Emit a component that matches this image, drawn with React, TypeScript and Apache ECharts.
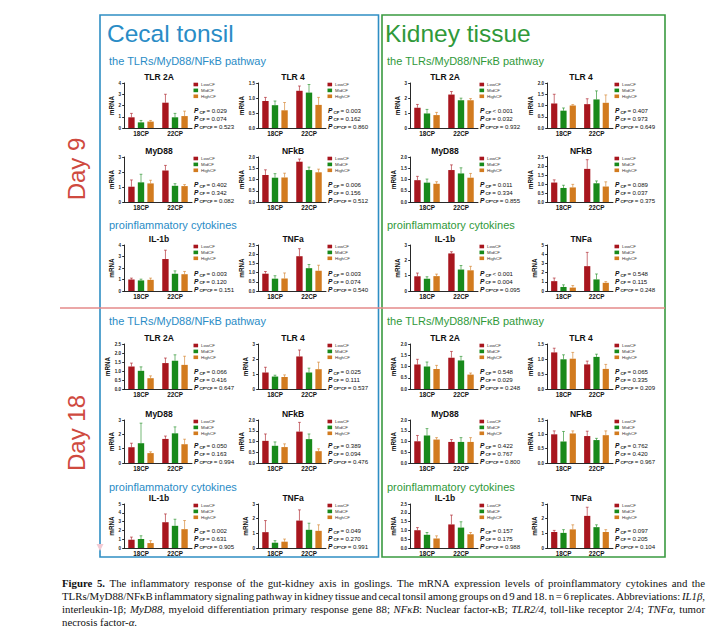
import React, { useEffect, useRef } from "react";
import * as echarts from "echarts";

// ---------------- data ----------------
const groups = ["18CP", "22CP"];
const levels = ["LowCF", "MidCF", "HighCF"];
const genes = ["TLR 2A", "TLR 4", "MyD88", "NFkB", "IL-1b", "TNFa"];
const pTerms = ["CP", "CF", "CP*CF"];

// each gene: [LowCF[18CP,22CP], MidCF[..], HighCF[..]]
const cecalD9Mean = [
  [[0.95, 2.25], [0.5, 0.95], [0.57, 1.06]],
  [[0.9, 1.24], [0.76, 1.18], [0.59, 0.77]],
  [[1.02, 2.1], [1.31, 1.08], [1.24, 1.06]],
  [[1.2, 1.79], [1.08, 1.42], [1.09, 1.32]],
  [[1.0, 2.78], [0.92, 1.5], [0.97, 1.46]],
  [[0.94, 1.89], [0.67, 1.24], [0.68, 1.1]],
];
const cecalD9Upper = [
  [[1.3, 3.0], [0.67, 1.3], [0.67, 1.5]],
  [[1.02, 1.4], [0.9, 1.45], [0.85, 1.02]],
  [[1.47, 2.44], [1.85, 1.22], [1.45, 1.16]],
  [[1.43, 1.91], [1.26, 1.55], [1.28, 1.46]],
  [[1.12, 3.55], [1.03, 1.75], [1.12, 1.7]],
  [[1.06, 2.3], [0.83, 1.44], [0.98, 1.4]],
];
const cecalD9YMax = [4, 1.5, 3, 2, 4, 2.5];
const cecalD9Step = [1, 0.5, 1, 0.5, 1, 0.5];
const cecalD9P = [
  ["= 0.029", "= 0.074", "= 0.523"],
  ["= 0.003", "= 0.162", "= 0.860"],
  ["= 0.402", "= 0.342", "= 0.082"],
  ["= 0.006", "= 0.156", "= 0.512"],
  ["= 0.003", "= 0.120", "= 0.151"],
  ["= 0.003", "= 0.074", "= 0.540"],
];

const kidneyD9Mean = [
  [[1.35, 2.23], [0.97, 1.85], [0.86, 1.85]],
  [[1.09, 1.06], [0.77, 1.27], [1.0, 1.12]],
  [[0.97, 1.42], [0.86, 1.27], [0.81, 1.08]],
  [[1.08, 1.84], [0.78, 1.04], [0.81, 0.86]],
  [[0.96, 2.45], [0.8, 1.4], [0.97, 1.35]],
  [[1.07, 2.7], [0.44, 1.26], [0.37, 0.89]],
];
const kidneyD9Upper = [
  [[1.57, 2.43], [1.24, 1.99], [1.04, 1.96]],
  [[1.5, 1.3], [0.89, 1.65], [1.04, 1.47]],
  [[1.14, 1.65], [1.02, 1.52], [0.9, 1.27]],
  [[1.23, 2.35], [0.93, 1.17], [0.98, 1.12]],
  [[1.17, 2.56], [0.93, 1.66], [1.1, 1.61]],
  [[1.41, 4.2], [0.67, 1.85], [0.59, 1.02]],
];
const kidneyD9YMax = [3, 2, 2, 2.5, 3, 5];
const kidneyD9Step = [1, 0.5, 0.5, 0.5, 1, 1];
const kidneyD9P = [
  ["< 0.001", "= 0.032", "= 0.932"],
  ["= 0.407", "= 0.973", "= 0.649"],
  ["= 0.011", "= 0.334", "= 0.855"],
  ["= 0.089", "= 0.037", "= 0.375"],
  ["< 0.001", "= 0.004", "= 0.095"],
  ["= 0.548", "= 0.115", "= 0.248"],
];

const cecalD18Mean = [
  [[1.25, 1.44], [1.01, 1.57], [0.6, 1.34]],
  [[1.1, 2.17], [0.83, 1.1], [0.8, 1.32]],
  [[1.1, 1.68], [1.38, 2.07], [0.69, 1.31]],
  [[1.03, 1.46], [0.8, 1.11], [0.74, 0.55]],
  [[0.94, 2.93], [1.02, 2.52], [0.56, 2.14]],
  [[1.08, 1.87], [0.36, 1.24], [0.43, 1.17]],
];
const cecalD18Upper = [
  [[1.44, 1.72], [1.23, 1.9], [0.73, 1.82]],
  [[1.45, 2.6], [0.92, 1.39], [0.94, 1.79]],
  [[1.38, 1.88], [2.78, 2.52], [0.78, 1.66]],
  [[1.35, 1.89], [0.98, 1.35], [0.89, 0.66]],
  [[1.24, 3.87], [1.39, 3.27], [0.83, 3.12]],
  [[1.87, 2.6], [0.5, 1.69], [0.61, 1.58]],
];
const cecalD18YMax = [2.5, 3, 3, 2, 5, 3];
const cecalD18Step = [0.5, 1, 1, 0.5, 1, 1];
const cecalD18P = [
  ["= 0.066", "= 0.416", "= 0.647"],
  ["= 0.025", "= 0.111", "= 0.537"],
  ["= 0.050", "= 0.163", "= 0.994"],
  ["= 0.389", "= 0.094", "= 0.476"],
  ["= 0.002", "= 0.631", "= 0.905"],
  ["= 0.049", "= 0.270", "= 0.991"],
];

const kidneyD18Mean = [
  [[1.09, 1.39], [1.0, 1.27], [0.89, 0.64]],
  [[1.22, 0.82], [0.99, 1.07], [1.01, 0.67]],
  [[1.01, 0.98], [1.28, 0.98], [1.09, 0.98]],
  [[1.0, 0.94], [0.75, 0.8], [1.03, 0.97]],
  [[1.01, 1.34], [0.75, 1.16], [0.54, 0.78]],
  [[1.09, 2.19], [1.03, 1.42], [1.27, 1.09]],
];
const kidneyD18Upper = [
  [[1.32, 1.67], [1.2, 1.45], [1.05, 0.71]],
  [[1.36, 0.93], [1.14, 1.16], [1.22, 0.82]],
  [[1.28, 1.09], [1.6, 1.18], [1.18, 1.18]],
  [[1.12, 1.11], [1.1, 0.86], [1.12, 1.12]],
  [[1.16, 1.87], [0.88, 1.49], [0.69, 0.88]],
  [[1.2, 2.78], [1.25, 1.58], [1.58, 1.25]],
];
const kidneyD18YMax = [2, 1.5, 2, 1.5, 2.5, 3];
const kidneyD18Step = [0.5, 0.5, 0.5, 0.5, 0.5, 1];
const kidneyD18P = [
  ["= 0.548", "= 0.029", "= 0.248"],
  ["= 0.065", "= 0.335", "= 0.209"],
  ["= 0.422", "= 0.767", "= 0.800"],
  ["= 0.762", "= 0.420", "= 0.967"],
  ["= 0.157", "= 0.175", "= 0.988"],
  ["= 0.097", "= 0.205", "= 0.104"],
];

const tissueNames = ["Cecal tonsil", "Kidney tissue"];
const dayNames = ["Day 9", "Day 18"];
const sectionNames = ["the TLRs/MyD88/NF\u03baB pathway", "proinflammatory cytokines"];

const captionLines = [
  "{b|Figure} {b|5.} The inflammatory response of the gut-kidney axis in goslings. The mRNA expression levels of proinflammatory cytokines and the",
  "TLRs/MyD88/NF\u03baB inflammatory signaling pathway in kidney tissue and cecal tonsil among groups on d 9 and 18. n = 6 replicates. Abbreviations: {i|IL1\u03b2},",
  "interleukin-1\u03b2; {i|MyD88}, myeloid differentiation primary response gene 88; {i|NF\u03baB}: Nuclear factor-\u03baB; {i|TLR2/4}, toll-like receptor 2/4; {i|TNF\u03b1}, tumor",
  "necrosis factor-{i|\u03b1}.",
];

// ---------------- layout / style ----------------
const FONT = '"Liberation Sans", Arial, Helvetica, sans-serif';
const SERIF_NAME = "Liberation Serif";
const SERIF = '"Liberation Serif", "Times New Roman", serif';
const CAP_SIZE = 10.8;
const CAP_LEFT = 62;
const CAP_RIGHT = 705;
const levelColors = ["#a8161e", "#188a1b", "#d27b1f"];
const tissueColors = ["#2a8cc6", "#30993a"];
const boxColors = ["#2f8ec4", "#3a9a40"];
const dayColor = "#cf4a3f";

const colLeft = [[124, 258], [410, 547]];
const colWidth = [[68, 68], [68, 66]];
const rowTop = [[83, 157, 245], [344, 420, 504]];
const rowBottom = [[128, 202, 291], [389, 463, 548]];
const sectionY = [[61, 225], [321, 487]];
const sectionX = [109, 387];

const panels = [
  { t: 0, d: 0, mean: cecalD9Mean, upper: cecalD9Upper, ymax: cecalD9YMax, step: cecalD9Step, p: cecalD9P },
  { t: 1, d: 0, mean: kidneyD9Mean, upper: kidneyD9Upper, ymax: kidneyD9YMax, step: kidneyD9Step, p: kidneyD9P },
  { t: 0, d: 1, mean: cecalD18Mean, upper: cecalD18Upper, ymax: cecalD18YMax, step: cecalD18Step, p: cecalD18P },
  { t: 1, d: 1, mean: kidneyD18Mean, upper: kidneyD18Upper, ymax: kidneyD18YMax, step: kidneyD18Step, p: kidneyD18P },
];

let measureCtx: CanvasRenderingContext2D | null = null;
function measureWord(word: string): number {
  if (!measureCtx) measureCtx = document.createElement("canvas").getContext("2d");
  const ctx = measureCtx as CanvasRenderingContext2D;
  const re = /\{(\w)\|([^}]*)\}|([^{]+)/g;
  let m: RegExpExecArray | null;
  let w = 0;
  while ((m = re.exec(word))) {
    const kind = m[1] || "";
    const txt = m[1] ? m[2] : m[3];
    const st = kind === "i" ? "italic " : "";
    const wt = kind === "b" ? "bold " : "";
    ctx.font = `${st}${wt}${CAP_SIZE}px "${SERIF_NAME}"`;
    w += ctx.measureText(txt).width;
  }
  return w;
}

function buildOption() {
  const grid: any[] = [];
  const xAxis: any[] = [];
  const yAxis: any[] = [];
  const series: any[] = [];
  const graphic: any[] = [];
  const axisLineStyle = { color: "#111", width: 0.9 };

  // frames
  graphic.push({
    type: "rect", shape: { x: 100, y: 15, width: 278.5, height: 542 },
    style: { fill: "none", stroke: boxColors[0], lineWidth: 1.6 },
  });
  graphic.push({
    type: "rect", shape: { x: 382, y: 15, width: 283, height: 542 },
    style: { fill: "none", stroke: boxColors[1], lineWidth: 1.6 },
  });
  graphic.push({
    type: "line", shape: { x1: 60, y1: 308, x2: 665, y2: 308 },
    style: { stroke: "#e48a8a", lineWidth: 1.3 },
  });
  graphic.push({
    type: "polygon", shape: { points: [[96.5, 544], [103.5, 544], [100, 551]] },
    style: { fill: "#f2c9d2" },
  });
  // tissue headings
  [107, 385].forEach((x, t) => {
    graphic.push({
      type: "text", x, y: 33,
      style: { text: tissueNames[t], fontSize: 24.5, fontFamily: FONT, fill: tissueColors[t], textAlign: "left", textVerticalAlign: "middle" },
    });
  });
  // day labels
  [169, 433].forEach((y, d) => {
    graphic.push({
      type: "text", x: 76, y, rotation: Math.PI / 2,
      style: { text: dayNames[d], fontSize: 24, fontFamily: FONT, fill: dayColor, textAlign: "center", textVerticalAlign: "middle" },
    });
  });
  // section headings
  for (let t = 0; t < 2; t++) {
    for (let d = 0; d < 2; d++) {
      for (let s = 0; s < 2; s++) {
        graphic.push({
          type: "text", x: sectionX[t], y: sectionY[d][s],
          style: { text: sectionNames[s], fontSize: 11, fontFamily: FONT, fill: tissueColors[t], textAlign: "left", textVerticalAlign: "middle" },
        });
      }
    }
  }

  let gi = 0;
  panels.forEach((pn) => {
    for (let k = 0; k < 6; k++) {
      const row = k >> 1;
      const col = k & 1;
      const left = colLeft[pn.t][col];
      const width = colWidth[pn.t][col];
      const top = rowTop[pn.d][row];
      const bottom = rowBottom[pn.d][row];
      const step = pn.step[k];
      grid.push({ left, top, width, height: bottom - top });
      xAxis.push({
        type: "category", gridIndex: gi, data: groups,
        axisLine: { lineStyle: axisLineStyle }, axisTick: { show: false },
        axisLabel: { fontSize: 6.3, fontWeight: "bold", color: "#111", margin: 2.5, fontFamily: FONT },
      });
      yAxis.push({
        type: "value", gridIndex: gi, min: 0, max: pn.ymax[k], interval: step,
        name: "mRNA", nameLocation: "middle", nameRotate: 90, nameGap: 8,
        nameTextStyle: { fontSize: 6.3, fontWeight: "bold", color: "#111", fontFamily: FONT },
        axisLine: { show: true, lineStyle: axisLineStyle },
        axisTick: { show: true, length: 1.8, lineStyle: axisLineStyle },
        splitLine: { show: false },
        axisLabel: {
          fontSize: 4.5, fontWeight: "bold", color: "#222", margin: 3, fontFamily: FONT,
          formatter: (v: number) => (step < 1 ? v.toFixed(1) : String(v)),
        },
      });
      for (let li = 0; li < 3; li++) {
        series.push({
          type: "bar", name: levels[li], xAxisIndex: gi, yAxisIndex: gi,
          data: pn.mean[k][li], barCategoryGap: "25%", barGap: "50%",
          itemStyle: { color: levelColors[li] }, silent: true,
        });
      }
      const errData: number[][] = [];
      for (let li = 0; li < 3; li++) {
        for (let g = 0; g < 2; g++) errData.push([g, li, pn.mean[k][li][g], pn.upper[k][li][g]]);
      }
      series.push({
        type: "custom", xAxisIndex: gi, yAxisIndex: gi, data: errData,
        encode: { x: 0, y: 3 }, clip: false, silent: true,
        renderItem: (params: any, api: any) => {
          const cat = api.value(0);
          const li = api.value(1);
          const base = api.coord([cat, api.value(2)]);
          const topP = api.coord([cat, api.value(3)]);
          const band = api.size([1, 0])[0];
          const x = base[0] + (li - 1) * 0.28125 * band;
          const st = { stroke: levelColors[li], lineWidth: 0.8, opacity: 0.75 };
          return {
            type: "group",
            children: [
              { type: "line", shape: { x1: x, y1: base[1], x2: x, y2: topP[1] }, style: st },
              { type: "line", shape: { x1: x - 1.4, y1: topP[1], x2: x + 1.4, y2: topP[1] }, style: st },
            ],
          };
        },
      });

      // chart title
      graphic.push({
        type: "text", x: left + width / 2 + 1, y: top - 6,
        style: { text: genes[k], fontSize: 8.5, fontWeight: "bold", fontFamily: FONT, fill: "#111", textAlign: "center", textVerticalAlign: "middle" },
      });
      // legend
      const lx = left + width + 1.5;
      for (let li = 0; li < 3; li++) {
        const ly = top + 1.5 + li * 5.9;
        graphic.push({ type: "rect", shape: { x: lx, y: ly - 1.8, width: 4.6, height: 3.6 }, style: { fill: levelColors[li] } });
        graphic.push({
          type: "text", x: lx + 7.5, y: ly,
          style: { text: levels[li], fontSize: 4.4, fontFamily: FONT, fill: "#333", textAlign: "left", textVerticalAlign: "middle" },
        });
      }
      // p values
      const px = left + width + 2;
      [17.3, 9.6, 1.9].forEach((off, i) => {
        graphic.push({
          type: "text", x: px, y: bottom - off,
          style: {
            text: "{p|P} {s|" + pTerms[i] + "} {v|" + pn.p[k][i] + "}",
            fontSize: 4, fontFamily: FONT, fill: "#111", textAlign: "left", textVerticalAlign: "middle",
            rich: {
              p: { fontSize: 6.6, fontWeight: "bold", fontStyle: "italic", fontFamily: FONT, fill: "#111" },
              s: { fontSize: 4.2, fontWeight: "bold", fontFamily: FONT, fill: "#111", verticalAlign: "bottom" },
              v: { fontSize: 6.1, fontFamily: FONT, fill: "#111" },
            },
          },
        });
      });
      gi++;
    }
  });

  // caption, justified by placing each word
  const capRich = {
    b: { fontSize: CAP_SIZE, fontWeight: "bold", fontFamily: SERIF, fill: "#111" },
    i: { fontSize: CAP_SIZE, fontStyle: "italic", fontFamily: SERIF, fill: "#111" },
  };
  captionLines.forEach((line, i) => {
    const words = line.split(" ");
    const widths = words.map(measureWord);
    const total = widths.reduce((a, b) => a + b, 0);
    const isLast = i === captionLines.length - 1;
    const natural = measureWord(" ");
    let spaceW = isLast ? natural : (CAP_RIGHT - CAP_LEFT - total) / (words.length - 1);
    if (spaceW < natural * 0.6) spaceW = natural * 0.6;
    let x = CAP_LEFT;
    words.forEach((w, j) => {
      graphic.push({
        type: "text", x, y: 583 + i * 13,
        style: {
          text: w, fontSize: CAP_SIZE, fontFamily: SERIF, fill: "#111",
          textAlign: "left", textVerticalAlign: "middle", rich: capRich,
        },
      });
      x += widths[j] + spaceW;
    });
  });

  return {
    animation: false,
    backgroundColor: "#ffffff",
    grid, xAxis, yAxis, series, graphic,
  };
}

export default function App() {
  const ref = useRef<HTMLDivElement>(null);
  useEffect(() => {
    if (!ref.current) return;
    const chart = echarts.init(ref.current, undefined, { renderer: "svg" });
    chart.setOption(buildOption() as any);
    return () => chart.dispose();
  }, []);
  return (
    <div
      ref={ref}
      style={{ position: "fixed", left: 0, top: 0, width: 724, height: 642, background: "#fff" }}
    />
  );
}
